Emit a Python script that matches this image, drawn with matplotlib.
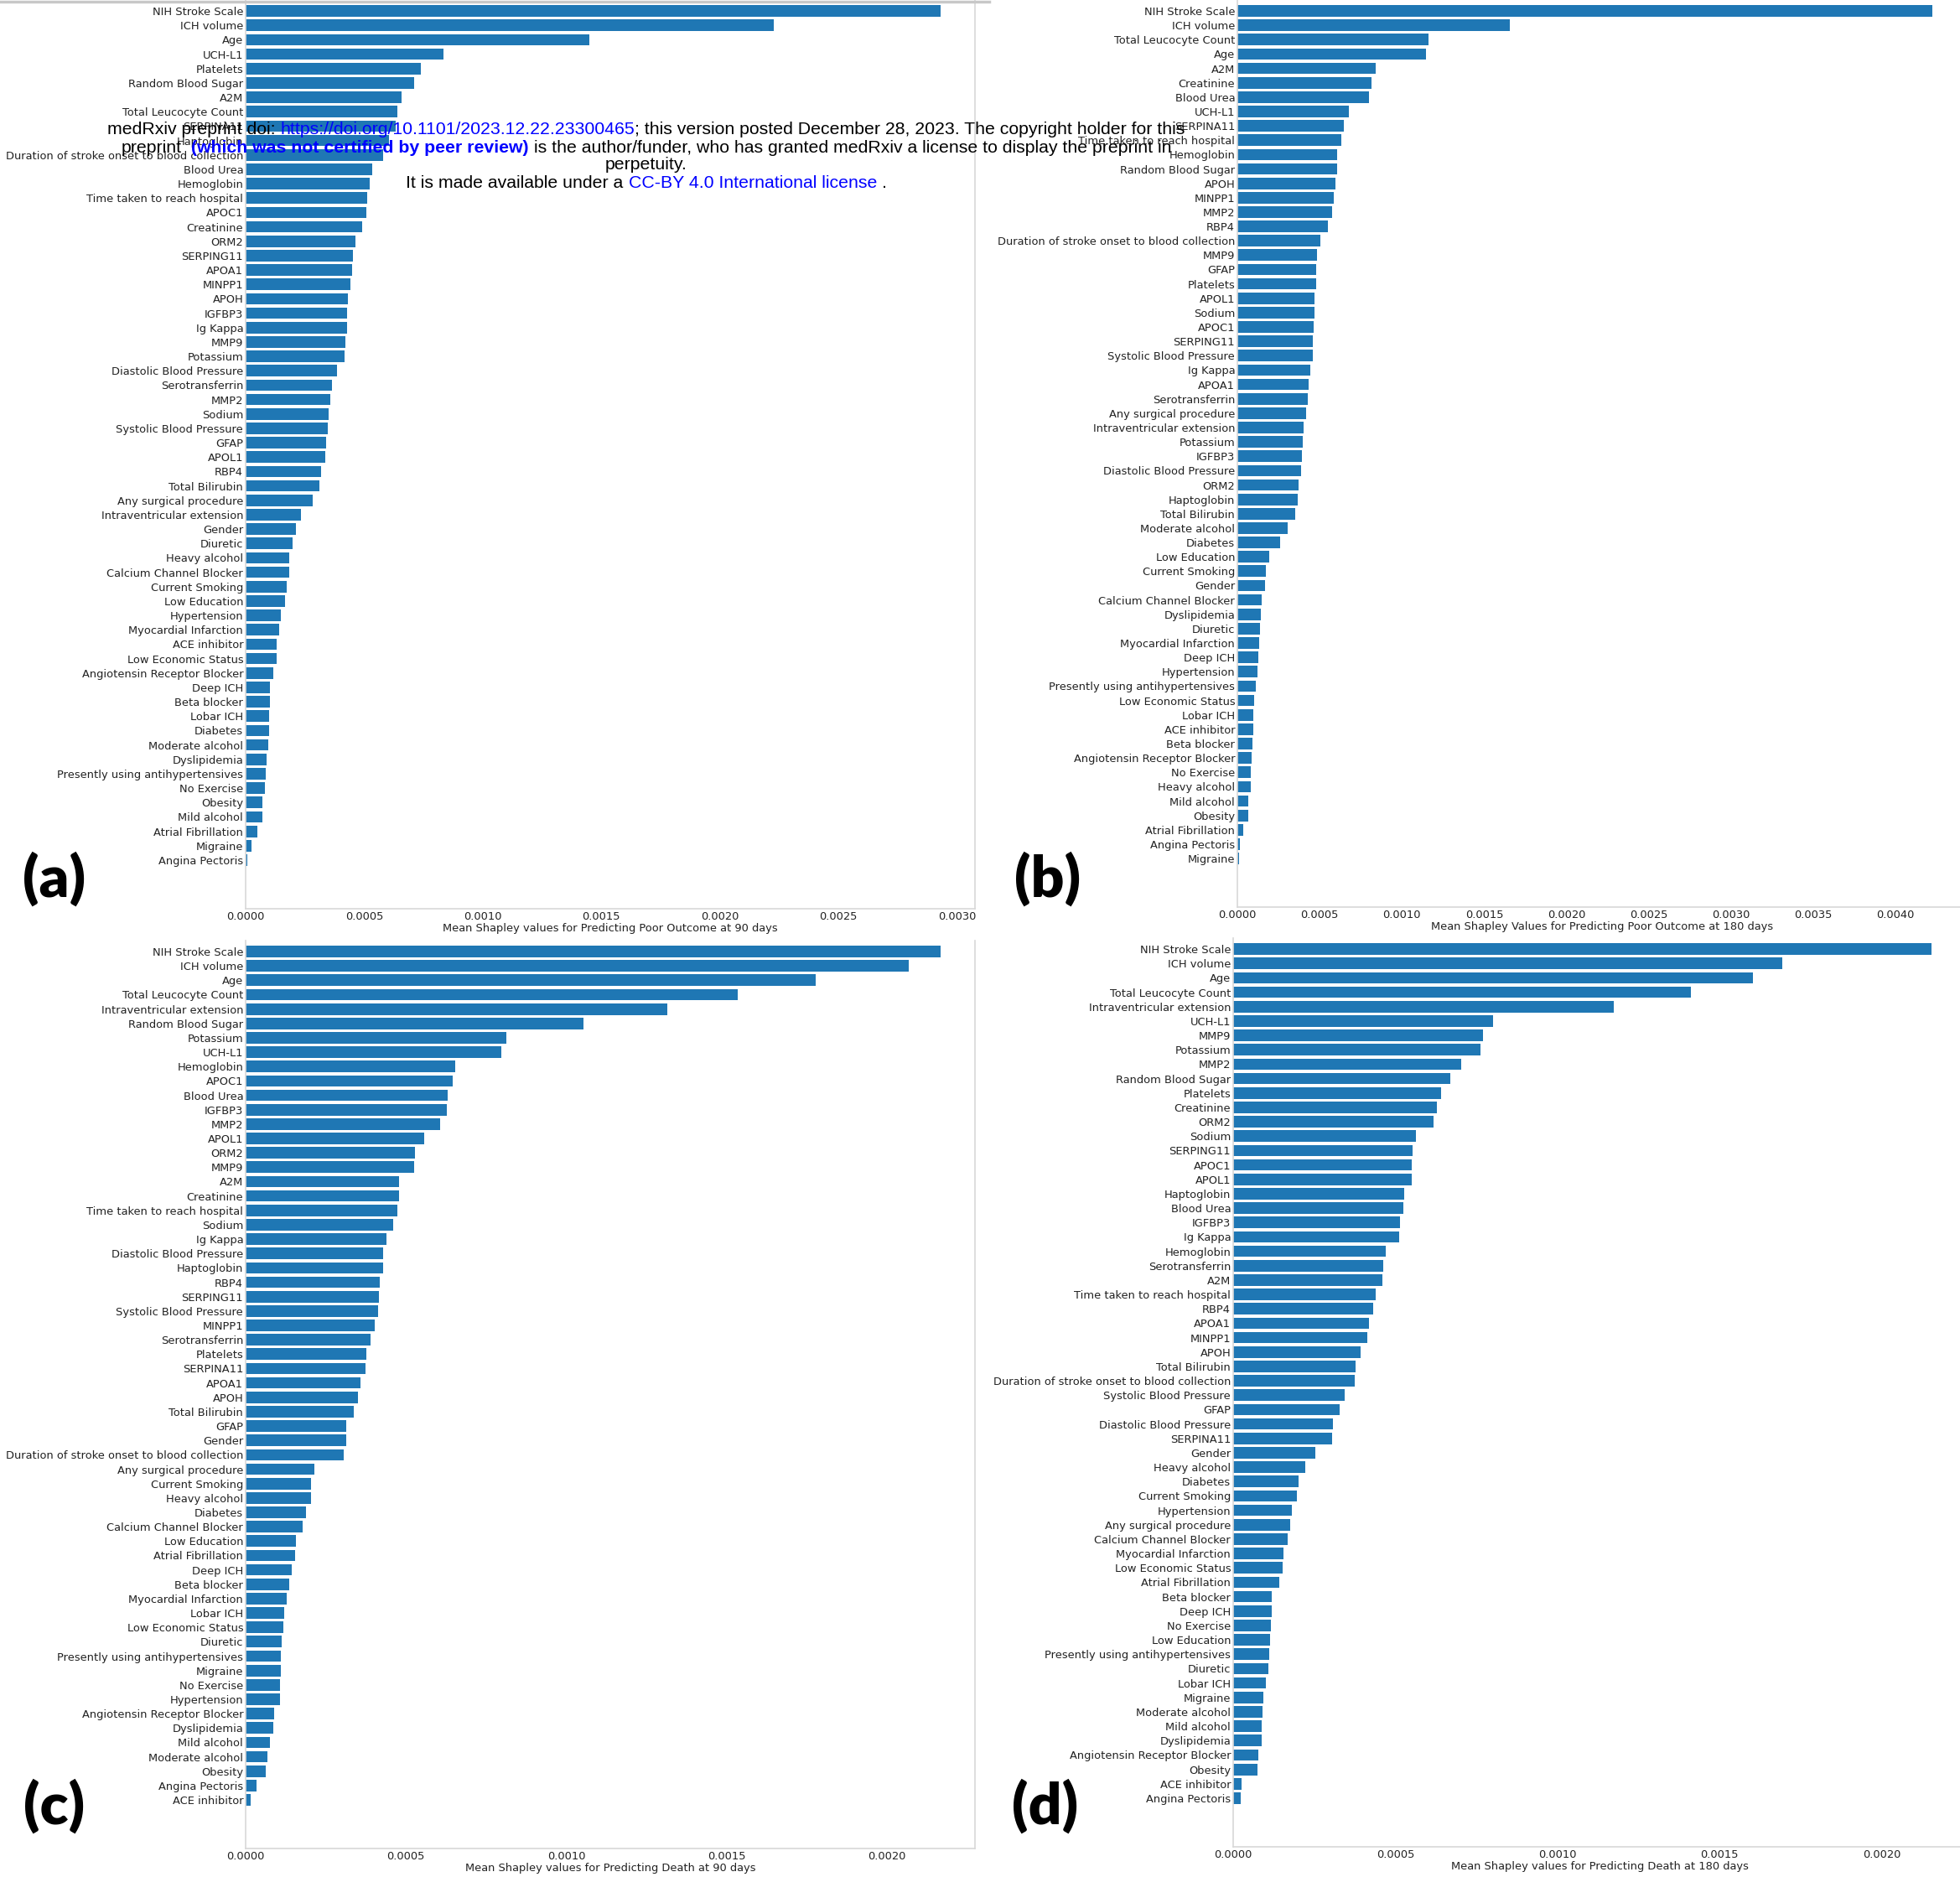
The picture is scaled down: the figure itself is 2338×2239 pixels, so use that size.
import matplotlib
matplotlib.use("Agg")
import matplotlib.pyplot as plt
from matplotlib.lines import Line2D

# ---------------- data ----------------
labels_a = ["NIH Stroke Scale", "ICH volume", "Age", "UCH-L1", "Platelets", "Random Blood Sugar", "A2M",
            "Total Leucocyte Count", "SERPINA11", "Haptoglobin", "Duration of stroke onset to blood collection",
            "Blood Urea", "Hemoglobin", "Time taken to reach hospital", "APOC1", "Creatinine", "ORM2",
            "SERPING11", "APOA1", "MINPP1", "APOH", "IGFBP3", "Ig Kappa", "MMP9", "Potassium",
            "Diastolic Blood Pressure", "Serotransferrin", "MMP2", "Sodium", "Systolic Blood Pressure", "GFAP",
            "APOL1", "RBP4", "Total Bilirubin", "Any surgical procedure", "Intraventricular extension", "Gender",
            "Diuretic", "Heavy alcohol", "Calcium Channel Blocker", "Current Smoking", "Low Education",
            "Hypertension", "Myocardial Infarction", "ACE inhibitor", "Low Economic Status",
            "Angiotensin Receptor Blocker", "Deep ICH", "Beta blocker", "Lobar ICH", "Diabetes",
            "Moderate alcohol", "Dyslipidemia", "Presently using antihypertensives", "No Exercise", "Obesity",
            "Mild alcohol", "Atrial Fibrillation", "Migraine", "Angina Pectoris"]
values_a = [0.002929, 0.002227, 0.001451, 0.000834, 0.000739, 0.000710, 0.000657, 0.000639, 0.000631,
            0.000605, 0.000580, 0.000533, 0.000522, 0.000512, 0.000509, 0.000493, 0.000464, 0.000451,
            0.000449, 0.000441, 0.000433, 0.000427, 0.000426, 0.000422, 0.000417, 0.000385, 0.000364,
            0.000356, 0.000351, 0.000346, 0.000338, 0.000335, 0.000319, 0.000311, 0.000282, 0.000235,
            0.000211, 0.000198, 0.000185, 0.000184, 0.000174, 0.000166, 0.000150, 0.000142, 0.000132,
            0.000131, 0.000116, 0.000103, 0.000102, 0.000100, 0.000099, 0.000095, 0.000090, 0.000084,
            0.000082, 0.000071, 0.000069, 0.000050, 0.000026, 0.000008]

labels_b = ["NIH Stroke Scale", "ICH volume", "Total Leucocyte Count", "Age", "A2M", "Creatinine", "Blood Urea",
            "UCH-L1", "SERPINA11", "Time taken to reach hospital", "Hemoglobin", "Random Blood Sugar", "APOH",
            "MINPP1", "MMP2", "RBP4", "Duration of stroke onset to blood collection", "MMP9", "GFAP",
            "Platelets", "APOL1", "Sodium", "APOC1", "SERPING11", "Systolic Blood Pressure", "Ig Kappa", "APOA1",
            "Serotransferrin", "Any surgical procedure", "Intraventricular extension", "Potassium", "IGFBP3",
            "Diastolic Blood Pressure", "ORM2", "Haptoglobin", "Total Bilirubin", "Moderate alcohol", "Diabetes",
            "Low Education", "Current Smoking", "Gender", "Calcium Channel Blocker", "Dyslipidemia", "Diuretic",
            "Myocardial Infarction", "Deep ICH", "Hypertension", "Presently using antihypertensives",
            "Low Economic Status", "Lobar ICH", "ACE inhibitor", "Beta blocker", "Angiotensin Receptor Blocker",
            "No Exercise", "Heavy alcohol", "Mild alcohol", "Obesity", "Atrial Fibrillation", "Angina Pectoris",
            "Migraine"]
values_b = [0.004221, 0.001658, 0.001160, 0.001144, 0.000840, 0.000814, 0.000798, 0.000677, 0.000646,
            0.000631, 0.000606, 0.000605, 0.000597, 0.000586, 0.000578, 0.000548, 0.000502, 0.000483,
            0.000480, 0.000479, 0.000469, 0.000468, 0.000464, 0.000457, 0.000456, 0.000441, 0.000433,
            0.000430, 0.000418, 0.000403, 0.000395, 0.000392, 0.000388, 0.000373, 0.000365, 0.000350,
            0.000304, 0.000259, 0.000194, 0.000171, 0.000167, 0.000148, 0.000141, 0.000137, 0.000133,
            0.000125, 0.000122, 0.000110, 0.000103, 0.000099, 0.000098, 0.000091, 0.000087, 0.000080,
            0.000079, 0.000068, 0.000065, 0.000034, 0.000015, 0.000008]

labels_c = ["NIH Stroke Scale", "ICH volume", "Age", "Total Leucocyte Count", "Intraventricular extension",
            "Random Blood Sugar", "Potassium", "UCH-L1", "Hemoglobin", "APOC1", "Blood Urea", "IGFBP3", "MMP2",
            "APOL1", "ORM2", "MMP9", "A2M", "Creatinine", "Time taken to reach hospital", "Sodium", "Ig Kappa",
            "Diastolic Blood Pressure", "Haptoglobin", "RBP4", "SERPING11", "Systolic Blood Pressure", "MINPP1",
            "Serotransferrin", "Platelets", "SERPINA11", "APOA1", "APOH", "Total Bilirubin", "GFAP", "Gender",
            "Duration of stroke onset to blood collection", "Any surgical procedure", "Current Smoking",
            "Heavy alcohol", "Diabetes", "Calcium Channel Blocker", "Low Education", "Atrial Fibrillation",
            "Deep ICH", "Beta blocker", "Myocardial Infarction", "Lobar ICH", "Low Economic Status", "Diuretic",
            "Presently using antihypertensives", "Migraine", "No Exercise", "Hypertension",
            "Angiotensin Receptor Blocker", "Dyslipidemia", "Mild alcohol", "Moderate alcohol", "Obesity",
            "Angina Pectoris", "ACE inhibitor"]
values_c = [0.002166, 0.002068, 0.001778, 0.001534, 0.001315, 0.001054, 0.000814, 0.000798, 0.000654,
            0.000646, 0.000629, 0.000628, 0.000607, 0.000558, 0.000529, 0.000525, 0.000479, 0.000478,
            0.000472, 0.000460, 0.000439, 0.000430, 0.000429, 0.000418, 0.000416, 0.000412, 0.000402,
            0.000390, 0.000377, 0.000373, 0.000357, 0.000349, 0.000338, 0.000315, 0.000314, 0.000306,
            0.000215, 0.000205, 0.000203, 0.000189, 0.000178, 0.000158, 0.000154, 0.000144, 0.000137,
            0.000127, 0.000121, 0.000117, 0.000113, 0.000111, 0.000109, 0.000108, 0.000107, 0.000088,
            0.000086, 0.000076, 0.000068, 0.000064, 0.000033, 0.000016]

labels_d = ["NIH Stroke Scale", "ICH volume", "Age", "Total Leucocyte Count", "Intraventricular extension",
            "UCH-L1", "MMP9", "Potassium", "MMP2", "Random Blood Sugar", "Platelets", "Creatinine", "ORM2",
            "Sodium", "SERPING11", "APOC1", "APOL1", "Haptoglobin", "Blood Urea", "IGFBP3", "Ig Kappa",
            "Hemoglobin", "Serotransferrin", "A2M", "Time taken to reach hospital", "RBP4", "APOA1", "MINPP1",
            "APOH", "Total Bilirubin", "Duration of stroke onset to blood collection", "Systolic Blood Pressure",
            "GFAP", "Diastolic Blood Pressure", "SERPINA11", "Gender", "Heavy alcohol", "Diabetes",
            "Current Smoking", "Hypertension", "Any surgical procedure", "Calcium Channel Blocker",
            "Myocardial Infarction", "Low Economic Status", "Atrial Fibrillation", "Beta blocker", "Deep ICH",
            "No Exercise", "Low Education", "Presently using antihypertensives", "Diuretic", "Lobar ICH",
            "Migraine", "Moderate alcohol", "Mild alcohol", "Dyslipidemia", "Angiotensin Receptor Blocker",
            "Obesity", "ACE inhibitor", "Angina Pectoris"]
values_d = [0.002154, 0.001693, 0.001603, 0.001412, 0.001173, 0.000802, 0.000770, 0.000762, 0.000702,
            0.000669, 0.000640, 0.000629, 0.000619, 0.000563, 0.000554, 0.000551, 0.000550, 0.000528,
            0.000525, 0.000515, 0.000511, 0.000471, 0.000462, 0.000461, 0.000440, 0.000432, 0.000419,
            0.000413, 0.000392, 0.000377, 0.000376, 0.000343, 0.000328, 0.000307, 0.000305, 0.000253,
            0.000222, 0.000201, 0.000197, 0.000181, 0.000176, 0.000168, 0.000156, 0.000152, 0.000141,
            0.000120, 0.000119, 0.000116, 0.000115, 0.000112, 0.000108, 0.000102, 0.000093, 0.000091,
            0.000089, 0.000087, 0.000077, 0.000076, 0.000025, 0.000023]

xlabels = ["Mean Shapley values for Predicting Poor Outcome at 90 days",
           "Mean Shapley Values for Predicting Poor Outcome at 180 days",
           "Mean Shapley values for Predicting Death at 90 days",
           "Mean Shapley values for Predicting Death at 180 days"]
panel_tags = ["(a)", "(b)", "(c)", "(d)"]

# ---------------- figure ----------------
W, H = 2338, 2239
DPI = 100
fig = plt.figure(figsize=(W / DPI, H / DPI), dpi=DPI)
fig.patch.set_facecolor("white")

BAR = "#1f77b4"
SPINE = "#d8d8d8"
FS = 9.4

boxes = [(293, 1163, 0, 1084), (1476, 2346, 0, 1082),
         (293, 1163, 1122, 2205), (1471, 2346, 1119, 2203)]
tag_pos = [(65, 1049), (1250, 1049), (65, 2155), (1247, 2155)]
datasets = [(labels_a, values_a), (labels_b, values_b), (labels_c, values_c), (labels_d, values_d)]

for (l, r, t, b), (labs, vals), xl, tag, tp in zip(boxes, datasets, xlabels, panel_tags, tag_pos):
    ax = fig.add_axes([l / W, 1 - b / H, (r - l) / W, (b - t) / H])
    n = len(labs)
    ypos = list(range(n))
    ax.barh(ypos, vals, height=0.8, color=BAR)
    ax.set_yticks(ypos)
    ax.set_yticklabels(labs, fontsize=FS, color="#222222")
    ax.set_xlim(0, max(vals) * 1.05)
    ax.set_ylim(n - 1 + 3.38, -0.76)
    ax.xaxis.set_major_locator(matplotlib.ticker.MultipleLocator(0.0005))
    ax.xaxis.set_major_formatter(matplotlib.ticker.FormatStrFormatter("%.4f"))
    ax.tick_params(axis="both", length=0, labelsize=FS, colors="#222222")
    ax.tick_params(axis="y", pad=2)
    ax.tick_params(axis="x", pad=2)
    ax.set_xlabel(xl, fontsize=FS, color="#222222", labelpad=1)
    for s in ["left", "bottom", "right"]:
        ax.spines[s].set_color(SPINE)
        ax.spines[s].set_linewidth(1.2)
    ax.spines["top"].set_visible(False)
    fig.text(tp[0] / W, 1 - tp[1] / H, tag, fontsize=50, fontweight="heavy",
             family=["Lato", "DejaVu Sans"], ha="center", va="center", color="black")

# thin border line at the top of panel (a)
fig.add_artist(Line2D([0, 1180 / W], [1 - 1.5 / H, 1 - 1.5 / H], color="#c8c8c8", lw=2.5))

# ---------------- medRxiv header ----------------
renderer = fig.canvas.get_renderer()
HFS = 15.3
HFAM = ["Liberation Sans", "DejaVu Sans"]
BLUE = "#0000ff"


def width_of(s, weight):
    t1 = fig.text(0, 0, "|" + s + "|", fontsize=HFS, family=HFAM, fontweight=weight)
    t2 = fig.text(0, 0, "||", fontsize=HFS, family=HFAM, fontweight=weight)
    w = t1.get_window_extent(renderer).width - t2.get_window_extent(renderer).width
    t1.remove()
    t2.remove()
    return w


def header_line(segments, xc, yc):
    widths = [width_of(s, wt) for s, c, wt in segments]
    x = xc - sum(widths) / 2.0
    for (s, c, wt), w in zip(segments, widths):
        if s.strip():
            fig.text(x / W, 1 - yc / H, s, fontsize=HFS, family=HFAM, fontweight=wt,
                     color=c, ha="left", va="center", zorder=10)
        x += w


header_line([("medRxiv preprint doi:", "black", "normal"), (" ", "black", "normal"),
             ("https://doi.org/10.1101/2023.12.22.23300465", BLUE, "normal"),
             ("; this version posted December 28, 2023. The copyright holder for this", "black", "normal")],
            771, 155)
header_line([("preprint", "black", "normal"), ("  ", "black", "normal"),
             ("(which was not certified by peer review)", BLUE, "bold"), (" ", "black", "normal"),
             ("is the author/funder, who has granted medRxiv a license to display the preprint in", "black", "normal")],
            771, 176)
header_line([("perpetuity.", "black", "normal")], 771, 197)
header_line([("It is made available under a", "black", "normal"), (" ", "black", "normal"),
             ("CC-BY 4.0 International license", BLUE, "normal"), (" ", "black", "normal"),
             (".", "black", "normal")], 771, 219)

fig.savefig("out.png", dpi=DPI, facecolor="white")
